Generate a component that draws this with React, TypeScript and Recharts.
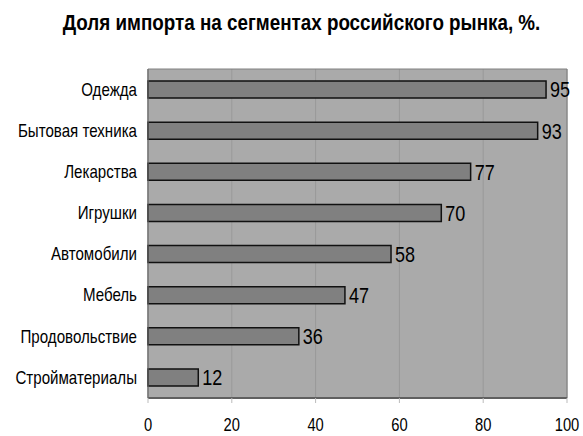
import React from "react";
import {
  BarChart,
  Bar,
  XAxis,
  YAxis,
  CartesianGrid,
  LabelList,
  ReferenceArea,
} from "recharts";

const categories = [
  "Одежда",
  "Бытовая техника",
  "Лекарства",
  "Игрушки",
  "Автомобили",
  "Мебель",
  "Продовольствие",
  "Стройматериалы",
];
const importShare = [95, 93, 77, 70, 58, 47, 36, 12];
const xTicks = [0, 20, 40, 60, 80, 100];

const chartData = categories.map((name, i) => ({ name, value: importShare[i] }));

// Arial Narrow is not installed: squeeze Liberation Sans horizontally instead
const font = '"Liberation Sans", Arial, sans-serif';
const squeeze = 0.82;

const CategoryTick = (props: any) => {
  const { x, y, payload } = props;
  return (
    <g transform={`translate(${x},${y})`}>
      <text transform="scale(0.84,1)" textAnchor="end" dy="0.35em" fill="#000" fontSize={18} fontFamily={font}>
        {payload.value}
      </text>
    </g>
  );
};

const ValueTick = (props: any) => {
  const { x, y, payload } = props;
  return (
    <g transform={`translate(${x},${y})`}>
      <text transform={`scale(${squeeze},1)`} textAnchor="middle" dy="0.71em" fill="#000" fontSize={18} fontFamily={font}>
        {payload.value}
      </text>
    </g>
  );
};

const BarValue = (props: any) => {
  const { x, y, width, height, value } = props;
  return (
    <g transform={`translate(${x + width + 4},${y + height / 2})`}>
      <text transform={`scale(${squeeze},1)`} textAnchor="start" dy="0.36em" fill="#000" fontSize={22} fontFamily={font}>
        {value}
      </text>
    </g>
  );
};

const App: React.FC = () => {
  return (
    <div style={{ position: "absolute", left: 0, top: 0, width: 583, height: 436, background: "#fff" }}>
      <div
        style={{
          position: "absolute",
          left: 0,
          top: 10,
          width: 583,
          textAlign: "center",
          fontFamily: font,
          fontWeight: "bold",
          fontSize: 22,
          color: "#000",
          transform: "translateX(10px) scaleX(0.855)",
          whiteSpace: "nowrap",
        }}
      >
        Доля импорта на сегментах российского рынка, %.
      </div>
      <BarChart
        width={583}
        height={436}
        data={chartData}
        layout="vertical"
        margin={{ top: 69, right: 16, left: 0, bottom: 0 }}
        barSize={17}
      >
        <CartesianGrid horizontal={false} stroke="#999999" fill="#aaaaaa" />
        <ReferenceArea x1={0} x2={100} fill="none" stroke="#808080" strokeWidth={1} />
        <XAxis
          type="number"
          domain={[0, 100]}
          ticks={xTicks}
          height={38}
          axisLine={{ stroke: "#606060", strokeWidth: 2 }}
          tickLine={{ stroke: "#bbbbbb" }}
          tickSize={5}
          tickMargin={15}
          tick={<ValueTick />}
        />
        <YAxis
          type="category"
          dataKey="name"
          width={148}
          axisLine={{ stroke: "#707070" }}
          tickLine={false}
          tickMargin={5}
          tick={<CategoryTick />}
        />
        <Bar dataKey="value" fill="#808080" stroke="#111" strokeWidth={1.5} isAnimationActive={false}>
          <LabelList dataKey="value" content={<BarValue />} />
        </Bar>
      </BarChart>
    </div>
  );
};

export default App;
